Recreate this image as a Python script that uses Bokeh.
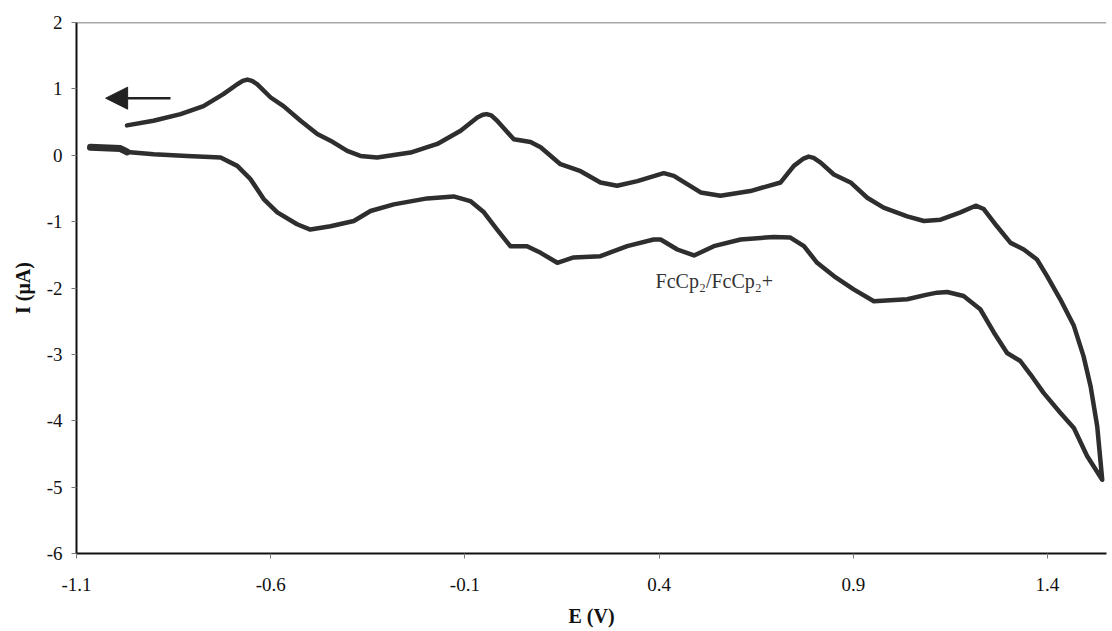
from bokeh.plotting import figure
from bokeh.models import Arrow, NormalHead, Span, Label, FixedTicker, Range1d, PrintfTickFormatter
from bokeh.embed import file_html
from bokeh.resources import INLINE

# Forward (upper) branch, E in V, I in uA
upper_E = [-0.970, -0.902, -0.832, -0.773, -0.722, -0.686, -0.672, -0.660, -0.648, -0.635,
           -0.600, -0.567, -0.523, -0.480, -0.446, -0.403, -0.369, -0.326, -0.240, -0.171,
           -0.111, -0.068, -0.054, -0.044, -0.032, -0.017, 0.026, 0.069, 0.095, 0.146,
           0.198, 0.249, 0.292, 0.344, 0.412, 0.438, 0.507, 0.558, 0.635, 0.713,
           0.747, 0.772, 0.785, 0.798, 0.816, 0.850, 0.893, 0.936, 0.978, 1.039,
           1.082, 1.125, 1.176, 1.215, 1.236, 1.270, 1.305, 1.339, 1.373, 1.399,
           1.433, 1.468, 1.493, 1.511, 1.528, 1.541]
upper_I = [0.45, 0.52, 0.62, 0.74, 0.92, 1.07, 1.12, 1.14, 1.12, 1.07,
           0.87, 0.74, 0.52, 0.32, 0.22, 0.065, -0.01, -0.035, 0.04, 0.17,
           0.37, 0.57, 0.61, 0.62, 0.60, 0.52, 0.24, 0.20, 0.12, -0.135,
           -0.24, -0.41, -0.46, -0.39, -0.27, -0.31, -0.56, -0.61, -0.54, -0.41,
           -0.16, -0.05, -0.02, -0.04, -0.11, -0.29, -0.41, -0.64, -0.79, -0.92,
           -0.99, -0.97, -0.86, -0.76, -0.81, -1.07, -1.32, -1.42, -1.57, -1.82,
           -2.17, -2.57, -3.03, -3.48, -4.08, -4.89]

# Return (lower) branch
lower_E = [1.502, 1.468, 1.433, 1.390, 1.356, 1.330, 1.296, 1.262, 1.227, 1.184,
           1.142, 1.116, 1.090, 1.039, 0.953, 0.901, 0.850, 0.807, 0.773, 0.738,
           0.695, 0.610, 0.541, 0.490, 0.447, 0.404, 0.386, 0.318, 0.249, 0.180,
           0.138, 0.095, 0.060, 0.017, -0.017, -0.051, -0.086, -0.129, -0.197, -0.283,
           -0.343, -0.386, -0.446, -0.498, -0.532, -0.583, -0.618, -0.652, -0.686, -0.729,
           -0.815, -0.901, -0.970, -0.987, -1.064]
lower_I = [-4.53, -4.11, -3.88, -3.58, -3.30, -3.10, -2.98, -2.67, -2.32, -2.12,
           -2.06, -2.07, -2.10, -2.17, -2.20, -2.02, -1.82, -1.62, -1.37, -1.24,
           -1.23, -1.27, -1.37, -1.51, -1.42, -1.27, -1.27, -1.37, -1.52, -1.54,
           -1.62, -1.47, -1.37, -1.37, -1.12, -0.86, -0.69, -0.62, -0.65, -0.74,
           -0.84, -0.99, -1.07, -1.12, -1.04, -0.86, -0.66, -0.36, -0.16, -0.035,
           -0.01, 0.015, 0.05, 0.10, 0.12]

x_ticks = [-1.1, -0.6, -0.1, 0.4, 0.9, 1.4]
y_ticks = [-6, -5, -4, -3, -2, -1, 0, 1, 2]

serif = "Liberation Serif"
ink = "#2e2e2e"

p = figure(width=1110, height=630, output_backend="svg", toolbar_location=None,
           x_range=Range1d(-1.1, 1.552), y_range=Range1d(-6, 2),
           min_border_left=76, min_border_right=4, min_border_top=22, min_border_bottom=77)
p.background_fill_color = "white"
p.border_fill_color = "white"
p.outline_line_color = None
p.xgrid.visible = False
p.ygrid.visible = False

E = upper_E + lower_E
I = upper_I + lower_I
p.line(E, I, line_color=ink, line_width=4.5, line_join="round", line_cap="round")
p.line(lower_E[-3:], lower_I[-3:], line_color=ink, line_width=7, line_cap="round")

for ax in (p.xaxis[0], p.yaxis[0]):
    ax.axis_line_color = "#111111"
    ax.axis_line_width = 2
    ax.major_tick_line_color = "#777777"
    ax.major_tick_out = 5
    ax.major_tick_in = 0
    ax.minor_tick_line_color = None
    ax.major_label_text_font = serif
    ax.major_label_text_font_size = "19px"
    ax.major_label_text_color = "#111111"
    ax.axis_label_text_font = serif
    ax.axis_label_text_font_size = "20px"
    ax.axis_label_text_font_style = "bold"
    ax.axis_label_text_color = "#111111"

p.xaxis.ticker = FixedTicker(ticks=x_ticks)
p.yaxis.ticker = FixedTicker(ticks=y_ticks)
p.xaxis.formatter = PrintfTickFormatter(format="%.1f")
p.yaxis.formatter = PrintfTickFormatter(format="%d")
p.xaxis.axis_label = "E (V)"
p.yaxis.axis_label = "I (μA)"
p.xaxis.major_label_standoff = 19
p.xaxis.axis_label_standoff = 11
p.yaxis.major_label_standoff = 9
p.yaxis.axis_label_standoff = 10

p.add_layout(Span(location=2, dimension="width", line_color="#555555", line_width=1.5))

p.add_layout(Arrow(end=NormalHead(size=22, fill_color="#222222", line_color="#222222"),
                   x_start=-0.858, y_start=0.86, x_end=-1.025, y_end=0.86,
                   line_color="#222222", line_width=2.5))

p.add_layout(Label(x=0.391, y=-1.90, text="FcCp₂/FcCp₂+", text_font=serif,
                   text_font_size="20px", text_color="#333333",
                   text_baseline="middle", text_align="left"))

open("out.html", "w").write(file_html(p, INLINE))
